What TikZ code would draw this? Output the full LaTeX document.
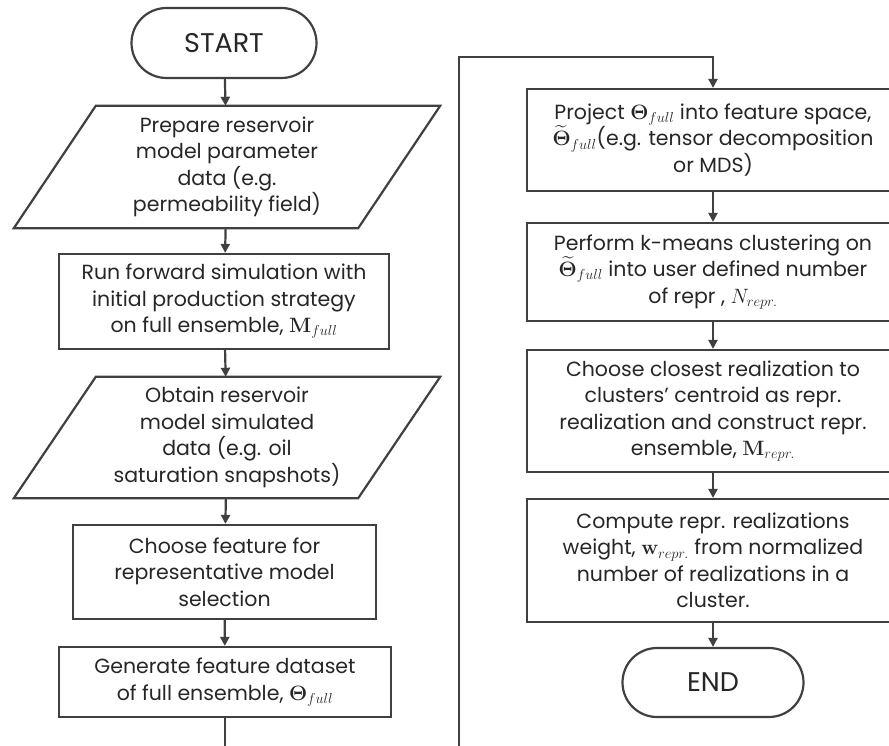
\documentclass[tikz,border=0pt]{standalone}
\usepackage{amsmath,bm}
\usepackage[no-math]{fontspec}
\setmainfont{Poppins}
\usetikzlibrary{arrows.meta,shapes.misc}
\definecolor{linec}{HTML}{404040}
\definecolor{txtc}{HTML}{262626}
\newcommand{\Thf}{\boldsymbol{\Theta}_{full}}
\newcommand{\Thtf}{\widetilde{\boldsymbol{\Theta}}_{full}}
\tikzset{
  base/.style={align=center, inner sep=0pt, text=txtc,
    font=\fontsize{20.5}{26.5}\selectfont},
  proc/.style={base, draw=linec, line width=2.2pt},
  term/.style={base, draw=linec, line width=2.2pt, rounded rectangle,
    font=\fontsize{27}{30}\selectfont},
  iobox/.style={base},
  para/.style={draw=linec, line width=2.2pt, line join=miter},
  arr/.style={draw=linec, line width=2.2pt,
    -{Triangle[length=9pt,width=9pt]}},
  wire/.style={draw=linec, line width=2.2pt},
}
\begin{document}
\begin{tikzpicture}[x=1pt,y=-1pt]
\useasboundingbox (0,0) rectangle (889,746);
\clip (0,0) rectangle (889,746);

% left column
\node[term, minimum width=185pt, minimum height=70pt] (start) at (224,43) {START};

\node[iobox, minimum width=344pt, minimum height=122pt] (p1) at (227,167)
  {Prepare reservoir\\ model parameter\\ data (e.g.\\ permeability field)};
\draw[para] ([xshift=-41pt]p1.south west) -- ([xshift=41pt]p1.north west)
  -- ([xshift=41pt]p1.north east) -- ([xshift=-41pt]p1.south east) -- cycle;

\node[proc, minimum width=330pt, minimum height=95pt] (b2) at (224,301.5)
  {Run forward simulation with\\ initial production strategy\\ on full ensemble, $\mathbf{M}_{full}$};

\node[iobox, minimum width=344pt, minimum height=121pt] (p2) at (227,437.5)
  {Obtain reservoir\\ model simulated\\ data (e.g. oil\\ saturation snapshots)};
\draw[para] ([xshift=-41pt]p2.south west) -- ([xshift=41pt]p2.north west)
  -- ([xshift=41pt]p2.north east) -- ([xshift=-41pt]p2.south east) -- cycle;

\node[proc, minimum width=303pt, minimum height=94pt] (b3) at (224.5,572)
  {Choose feature for\\ representative model\\ selection};

\node[proc, minimum width=332pt, minimum height=70pt] (b4) at (225,682)
  {Generate feature dataset\\ of full ensemble, $\Thf$};

\coordinate (lowL) at (225,746);

% right column
\coordinate (lowR) at (459,746);
\coordinate (topR) at (713,57);

\node[proc, minimum width=372pt, minimum height=102pt] (r1) at (713,140)
  {Project $\Thf$ into feature space,\\ $\Thtf$(e.g. tensor decomposition\\ or MDS)};

\node[proc, minimum width=372pt, minimum height=98pt] (r2) at (713,272)
  {Perform k-means clustering on\\ $\Thtf$ into user defined number\\ of repr , $N_{repr.}$};

\node[proc, minimum width=372pt, minimum height=122pt] (r3) at (713,411)
  {Choose closest realization to\\ clusters' centroid as repr.\\ realization and construct repr.\\ ensemble, $\mathbf{M}_{repr.}$};

\node[proc, minimum width=372pt, minimum height=123pt] (r4) at (713,560.5)
  {Compute repr. realizations\\ weight, $\mathbf{w}_{repr.}$ from normalized\\ number of realizations in a\\ cluster.};

\node[term, minimum width=181pt, minimum height=69pt] (stop) at (713,682.5) {END};

% connectors
\draw[arr] (start) -- (p1);
\draw[arr] (p1) -- (b2);
\draw[arr] (b2) -- (p2);
\draw[arr] (p2) -- (b3);
\draw[arr] (b3) -- (b4);
\draw[wire] (b4) -- (lowL);
\draw[arr] (lowR) |- (topR) -- (r1);
\draw[arr] (r1) -- (r2);
\draw[arr] (r2) -- (r3);
\draw[arr] (r3) -- (r4);
\draw[arr] (r4) -- (stop);
\end{tikzpicture}
\end{document}
